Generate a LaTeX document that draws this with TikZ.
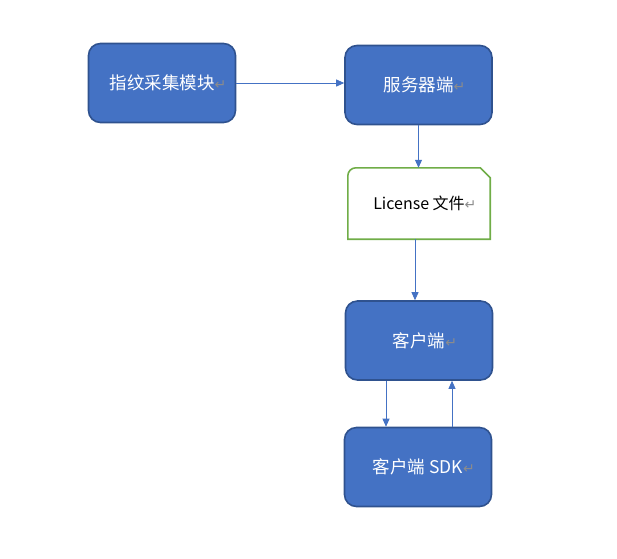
\documentclass[tikz,border=0pt]{standalone}
\usepackage{fontspec}
\usetikzlibrary{arrows.meta,calc}
\newfontfamily\cjk{Noto Sans CJK SC}
\newfontfamily\symf{DejaVu Sans}
\definecolor{boxblue}{HTML}{4472C4}
\definecolor{boxedge}{HTML}{2F528F}
\definecolor{licgreen}{HTML}{70AD47}
\definecolor{pmark}{HTML}{8C8C8C}
\newcommand{\pmk}{\rlap{\textcolor{pmark}{\symf\fontsize{14}{16}\selectfont ↵}}}
\begin{document}
\begin{tikzpicture}[x=1pt,y=-1pt,
  blk/.style={rectangle, rounded corners=12pt, fill=boxblue, draw=boxedge, line width=1.6pt,
    minimum width=147pt, minimum height=79pt, text=white, inner sep=0pt,
    font=\cjk\fontsize{17.5}{20}\selectfont},
  licbox/.style={rectangle, minimum width=142pt, minimum height=71pt, inner sep=0pt,
    text=black, font=\cjk\fontsize{16}{19}\selectfont},
  licline/.style={draw=licgreen, line width=1.6pt, fill=white},
  conn/.style={draw=boxblue, line width=0.8pt, -{Triangle[width=7pt,length=8pt]}}]
\useasboundingbox (0,0) rectangle (617,558);
\node[blk] (A) at (162,83) {指纹采集模块\pmk};
\node[blk] (B) at (418.5,85) {服务器端\pmk};
\node[licbox] (L) at (419,203.5) {};
\draw[licline] (L.south west) [rounded corners=8pt] -- (L.north west) [sharp corners] -- ($(L.north east)+(-10,0)$) -- ($(L.north east)+(0,10)$) -- (L.south east) -- cycle;
\node[licbox] at (L) {License 文件\pmk};
\node[blk] (C) at (419,340.5) {客户端\pmk};
\node[blk] (S) at (418,467) {客户端 SDK\pmk};
\draw[conn] (A.east) -- (A.east -| B.west);
\draw[conn] (B.south) -- (B.south |- L.north);
\draw[conn] ([xshift=-4pt]L.south) -- ([xshift=-4pt]L.south |- C.north);
\draw[conn] ([xshift=-33pt]C.south) -- ([xshift=-33pt]C.south |- S.north);
\draw[conn] ([xshift=33pt]C.south |- S.north) -- ([xshift=33pt]C.south);
\end{tikzpicture}
\end{document}
